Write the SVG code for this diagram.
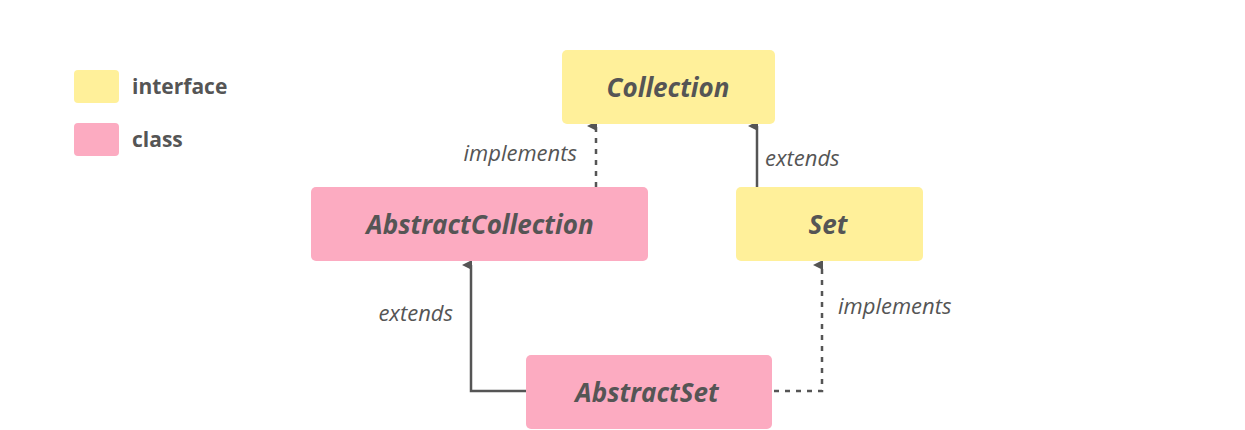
<svg xmlns="http://www.w3.org/2000/svg" width="1245" height="430" viewBox="0 0 1245 430">
<style>
.i{fill:#fff09a}.c{fill:#fcabc1}
.t{font-family:"Open Sans",sans-serif;font-weight:bold;font-style:italic;font-size:26px;fill:#555;text-anchor:middle}
.l{font-family:"Open Sans",sans-serif;font-style:italic;font-size:22px;fill:#555}
.g{font-family:"Open Sans",sans-serif;font-weight:bold;font-size:21px;fill:#555}
.e{fill:none;stroke:#555;stroke-width:2.5}
.d{stroke-dasharray:5 6}
</style>
<defs><marker id="a" markerWidth="10" markerHeight="10" refX="5" refY="9" orient="auto-start-reverse" markerUnits="userSpaceOnUse" viewBox="0 0 10 10"><path d="M0,10 L5,0 L10,10Z" fill="#555"/></marker></defs>
<g id="legend">
<rect class="i" x="74" y="70" width="45" height="33" rx="4"/><text class="g" x="132" y="94">interface</text>
<rect class="c" x="74" y="123" width="45" height="33" rx="4"/><text class="g" x="132" y="147">class</text>
</g>
<g id="connectors">
<path class="e d" d="M596,187 V126" marker-end="url(#a)"/>
<path class="e" d="M757,187 V126" marker-end="url(#a)"/>
<path class="e" d="M526,391 H471 V265" marker-end="url(#a)"/>
<path class="e d" d="M774,391 H822 V265" marker-end="url(#a)"/>
<text class="l" x="577" y="161" text-anchor="end">implements</text>
<text class="l" x="765" y="166">extends</text>
<text class="l" x="453" y="321" text-anchor="end">extends</text>
<text class="l" x="838" y="314">implements</text>
</g>
<g id="Collection"><rect class="i" x="562" y="50" width="213" height="74" rx="5"/><text class="t" x="668" y="97">Collection</text></g>
<g id="AbstractCollection"><rect class="c" x="311" y="187" width="337" height="74" rx="5"/><text class="t" x="480" y="234">AbstractCollection</text></g>
<g id="Set"><rect class="i" x="736" y="187" width="187" height="74" rx="5"/><text class="t" x="828" y="234">Set</text></g>
<g id="AbstractSet"><rect class="c" x="526" y="355" width="246" height="74" rx="5"/><text class="t" x="647" y="402">AbstractSet</text></g>
</svg>
